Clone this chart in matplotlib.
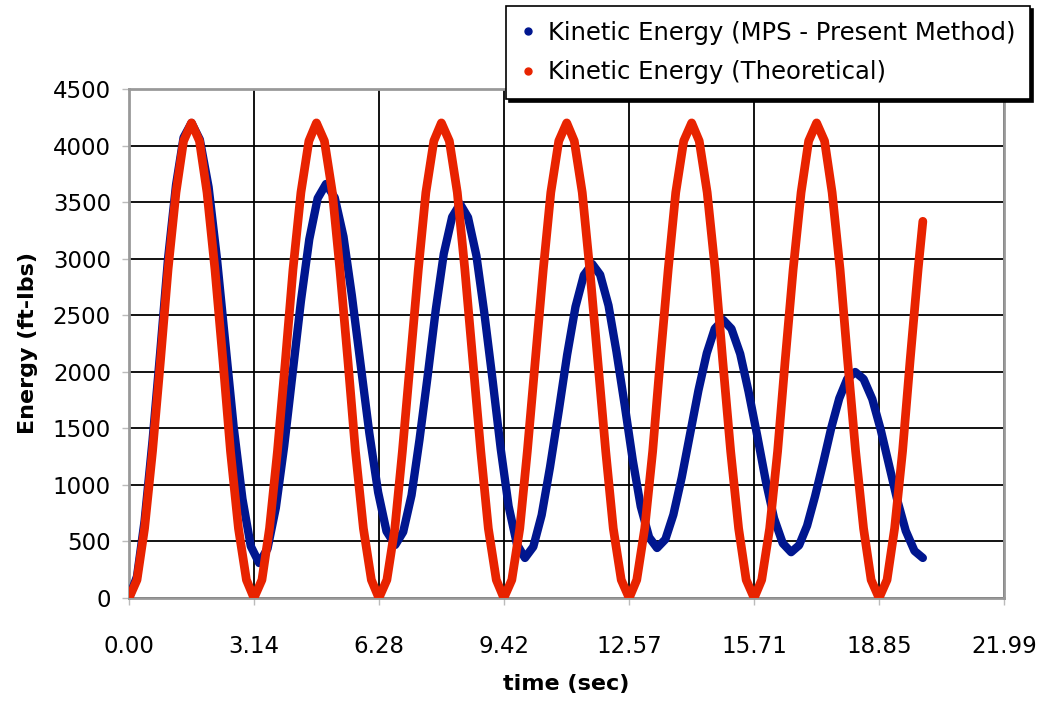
import matplotlib
matplotlib.use('Agg')
import matplotlib.pyplot as plt
from matplotlib.lines import Line2D

# time (sec) and kinetic energy (ft-lbs)
t_theory = [0.00, 0.20, 0.39, 0.59, 0.79, 0.98, 1.18, 1.37, 1.57, 1.77, 1.96, 2.16, 2.36, 2.55, 2.75, 2.95,
            3.14, 3.34, 3.53, 3.73, 3.93, 4.12, 4.32, 4.52, 4.71, 4.91, 5.11, 5.30, 5.50, 5.69, 5.89, 6.09,
            6.28, 6.48, 6.68, 6.87, 7.07, 7.27, 7.46, 7.66, 7.85, 8.05, 8.25, 8.44, 8.64, 8.84, 9.03, 9.23,
            9.42, 9.62, 9.82, 10.01, 10.21, 10.41, 10.60, 10.80, 11.00, 11.19, 11.39, 11.58, 11.78, 11.98, 12.17, 12.37,
            12.57, 12.76, 12.96, 13.16, 13.35, 13.55, 13.74, 13.94, 14.14, 14.33, 14.53, 14.73, 14.92, 15.12, 15.32, 15.51,
            15.71, 15.90, 16.10, 16.30, 16.49, 16.69, 16.89, 17.08, 17.28, 17.48, 17.67, 17.87, 18.06, 18.26, 18.46, 18.65,
            18.85, 19.05, 19.24, 19.44, 19.63, 19.83, 19.95]
ke_theory = [0, 160, 615, 1297, 2100, 2903, 3585, 4040, 4200, 4040, 3585, 2903, 2100, 1297, 615, 160,
             0, 160, 615, 1297, 2100, 2903, 3585, 4040, 4200, 4040, 3585, 2903, 2100, 1297, 615, 160,
             0, 160, 615, 1297, 2100, 2903, 3585, 4040, 4200, 4040, 3585, 2903, 2100, 1297, 615, 160,
             0, 160, 615, 1297, 2100, 2903, 3585, 4040, 4200, 4040, 3585, 2903, 2100, 1297, 615, 160,
             0, 160, 615, 1297, 2100, 2903, 3585, 4040, 4200, 4040, 3585, 2903, 2100, 1297, 615, 160,
             0, 160, 615, 1297, 2100, 2903, 3585, 4040, 4200, 4040, 3585, 2903, 2100, 1297, 615, 160,
             0, 160, 615, 1297, 2100, 2903, 3330]

t_mps = [0.00, 0.20, 0.39, 0.59, 0.79, 0.98, 1.18, 1.37, 1.57,
         1.78, 2.00, 2.21, 2.42, 2.63, 2.85, 3.06, 3.27,
         3.48, 3.69, 3.90, 4.11, 4.32, 4.53, 4.74, 4.95,
         5.17, 5.39, 5.60, 5.82, 6.04, 6.26, 6.47, 6.69,
         6.89, 7.10, 7.30, 7.51, 7.71, 7.91, 8.12, 8.32,
         8.52, 8.73, 8.93, 9.14, 9.34, 9.54, 9.75, 9.95,
         10.16, 10.37, 10.58, 10.80, 11.01, 11.22, 11.43, 11.64,
         11.84, 12.05, 12.25, 12.46, 12.66, 12.86, 13.07, 13.27,
         13.48, 13.68, 13.89, 14.10, 14.31, 14.52, 14.72, 14.93,
         15.14, 15.36, 15.57, 15.79, 16.00, 16.21, 16.43, 16.64,
         16.84, 17.04, 17.24, 17.45, 17.65, 17.85, 18.05, 18.25,
         18.46, 18.68, 18.89, 19.10, 19.31, 19.52, 19.74, 19.95]
ke_mps = [0, 190, 680, 1390, 2200, 3000, 3650, 4070, 4200,
          4052, 3632, 2998, 2254, 1511, 877, 457, 309,
          436, 798, 1344, 1985, 2625, 3171, 3533, 3660,
          3539, 3194, 2674, 2064, 1455, 935, 590, 469,
          584, 909, 1400, 1976, 2552, 3043, 3368, 3483,
          3364, 3026, 2516, 1918, 1321, 811, 473, 354,
          453, 733, 1157, 1654, 2150, 2574, 2854, 2953,
          2858, 2586, 2177, 1697, 1218, 809, 537, 442,
          519, 736, 1065, 1450, 1835, 2164, 2381, 2458,
          2380, 2158, 1824, 1431, 1039, 705, 483, 405,
          466, 638, 897, 1202, 1506, 1765, 1937, 1998,
          1936, 1758, 1490, 1176, 862, 594, 416, 354]

x_ticks = [0.00, 3.14, 6.28, 9.42, 12.57, 15.71, 18.85, 21.99]
x_labels = ['0.00', '3.14', '6.28', '9.42', '12.57', '15.71', '18.85', '21.99']
y_ticks = [0, 500, 1000, 1500, 2000, 2500, 3000, 3500, 4000, 4500]

blue = '#00168F'
red = '#E82300'

plt.rcParams['font.family'] = 'DejaVu Sans'

fig = plt.figure(figsize=(10.44, 7.05), dpi=100)
ax = fig.add_axes([0.1236, 0.1518, 0.8381, 0.7220])

ax.plot(t_mps, ke_mps, color=blue, lw=6, solid_joinstyle='round', solid_capstyle='round', zorder=3)
ax.plot(t_theory, ke_theory, color=red, lw=6.3, solid_joinstyle='round', solid_capstyle='round', zorder=4)

ax.set_xlim(0, 21.99)
ax.set_ylim(0, 4500)
ax.set_xticks(x_ticks)
ax.set_xticklabels(x_labels)
ax.set_yticks(y_ticks)

ax.grid(True, color='black', lw=1.3, zorder=1)
ax.set_axisbelow(True)
for s in ax.spines.values():
    s.set_color('#999999')
    s.set_linewidth(2)

ax.tick_params(axis='both', labelsize=16.5, color='#bbbbbb', length=5, width=1)
ax.tick_params(axis='y', pad=8)
ax.tick_params(axis='x', pad=22)

ax.set_xlabel('time (sec)', fontsize=16, fontweight='bold')
ax.set_ylabel('Energy (ft-lbs)', fontsize=16, fontweight='bold')
ax.xaxis.set_label_coords(0.5, -0.150)
ax.yaxis.set_label_coords(-0.104, 0.5)

handles = [Line2D([], [], ls='none', marker='o', ms=5, color=blue),
           Line2D([], [], ls='none', marker='o', ms=5, color=red)]
leg = fig.legend(handles, ['Kinetic Energy (MPS - Present Method)', 'Kinetic Energy (Theoretical)'],
                 loc='upper right', bbox_to_anchor=(0.987, 0.9915), fontsize=17.5,
                 frameon=True, fancybox=False, shadow={'color': 'black', 'alpha': 1},
                 handlelength=0.6, handletextpad=0.55, labelspacing=0.65,
                 borderpad=0.6, borderaxespad=0)
leg.get_frame().set_edgecolor('black')
leg.get_frame().set_linewidth(1.2)
leg.set_zorder(10)

fig.savefig('out.png', dpi=100)
